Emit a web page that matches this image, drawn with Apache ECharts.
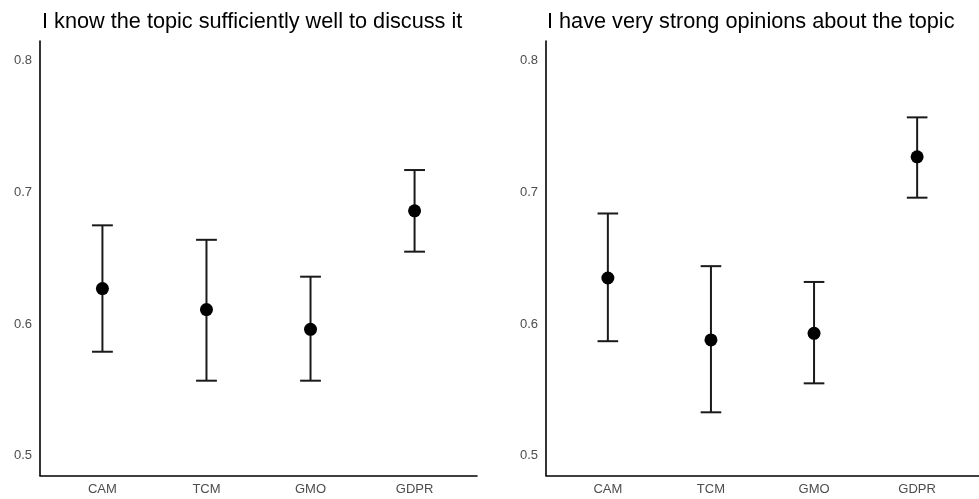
<!DOCTYPE html>
<html>
<head>
<meta charset="utf-8">
<script src="https://cdn.jsdelivr.net/npm/echarts@6/dist/echarts.min.js"></script>
<style>
  html, body { margin: 0; padding: 0; background: #ffffff; }
  #chart { width: 979px; height: 499px; }
</style>
</head>
<body>
<div id="chart"></div>
<script>
const categories = ['CAM', 'TCM', 'GMO', 'GDPR'];
const panelTitles = ['I know the topic sufficiently well to discuss it', 'I have very strong opinions about the topic'];
const yTicks = [0.5, 0.6, 0.7, 0.8];

const knowMean = [0.627, 0.611, 0.596, 0.686];
const knowLow  = [0.579, 0.557, 0.557, 0.655];
const knowHigh = [0.675, 0.664, 0.636, 0.717];

const opinMean = [0.635, 0.588, 0.593, 0.727];
const opinLow  = [0.587, 0.533, 0.555, 0.696];
const opinHigh = [0.684, 0.644, 0.632, 0.757];

const FONT = 'Liberation Sans';
const chart = echarts.init(document.getElementById('chart'), null, { renderer: 'canvas' });

function errData(low, high) {
  return categories.map((c, i) => [i + 1, low[i], high[i]]);
}
function ptData(mean) {
  return categories.map((c, i) => [i + 1, mean[i]]);
}
function renderErr(params, api) {
  const x = api.value(0);
  const lo = api.coord([x, api.value(1)]);
  const hi = api.coord([x, api.value(2)]);
  const half = api.size([0.2, 0])[0] / 2;
  const style = { stroke: '#1a1a1a', lineWidth: 2 };
  return {
    type: 'group',
    children: [
      { type: 'line', shape: { x1: lo[0], y1: lo[1], x2: hi[0], y2: hi[1] }, style: style },
      { type: 'line', shape: { x1: lo[0] - half, y1: lo[1], x2: lo[0] + half, y2: lo[1] }, style: style },
      { type: 'line', shape: { x1: hi[0] - half, y1: hi[1], x2: hi[0] + half, y2: hi[1] }, style: style }
    ]
  };
}

const grids = [
  { left: 40, top: 41, width: 437, height: 434.5 },
  { left: 546, top: 41, width: 437, height: 434.5 }
];

function xAxis(idx) {
  return {
    gridIndex: idx, type: 'value', min: 0.4, max: 4.6,
    axisLine: { show: true, onZero: false, lineStyle: { color: '#000', width: 1.6 } },
    axisTick: { show: false },
    splitLine: { show: false },
    axisLabel: {
      customValues: [1, 2, 3, 4],
      formatter: v => categories[Math.round(v) - 1],
      color: '#4d4d4d', fontSize: 13, fontFamily: FONT, margin: 7
    }
  };
}
function yAxis(idx) {
  return {
    gridIndex: idx, type: 'value', min: 0.485, max: 0.815,
    axisLine: { show: true, onZero: false, lineStyle: { color: '#000', width: 1.6 } },
    axisTick: { show: false },
    splitLine: { show: false },
    axisLabel: {
      customValues: yTicks,
      formatter: v => v.toFixed(1),
      color: '#4d4d4d', fontSize: 13, fontFamily: FONT, margin: 8
    }
  };
}

const titleStyle = { fontFamily: FONT, fontSize: 21.7, fontWeight: 'normal', color: '#000' };
const option = {
  backgroundColor: '#ffffff',
  animation: false,
  title: [
    { text: panelTitles[0], left: 37, top: 6, textStyle: titleStyle },
    { text: panelTitles[1], left: 542, top: 6, textStyle: titleStyle }
  ],
  grid: grids,
  xAxis: [xAxis(0), xAxis(1)],
  yAxis: [yAxis(0), yAxis(1)],
  series: [
    { type: 'custom', xAxisIndex: 0, yAxisIndex: 0, data: errData(knowLow, knowHigh), renderItem: renderErr, clip: false },
    { type: 'scatter', xAxisIndex: 0, yAxisIndex: 0, data: ptData(knowMean), symbolSize: 13, itemStyle: { color: '#000', opacity: 1 }, z: 5 },
    { type: 'custom', xAxisIndex: 1, yAxisIndex: 1, data: errData(opinLow, opinHigh), renderItem: renderErr, clip: false },
    { type: 'scatter', xAxisIndex: 1, yAxisIndex: 1, data: ptData(opinMean), symbolSize: 13, itemStyle: { color: '#000', opacity: 1 }, z: 5 }
  ]
};
chart.setOption(option);
</script>
</body>
</html>
